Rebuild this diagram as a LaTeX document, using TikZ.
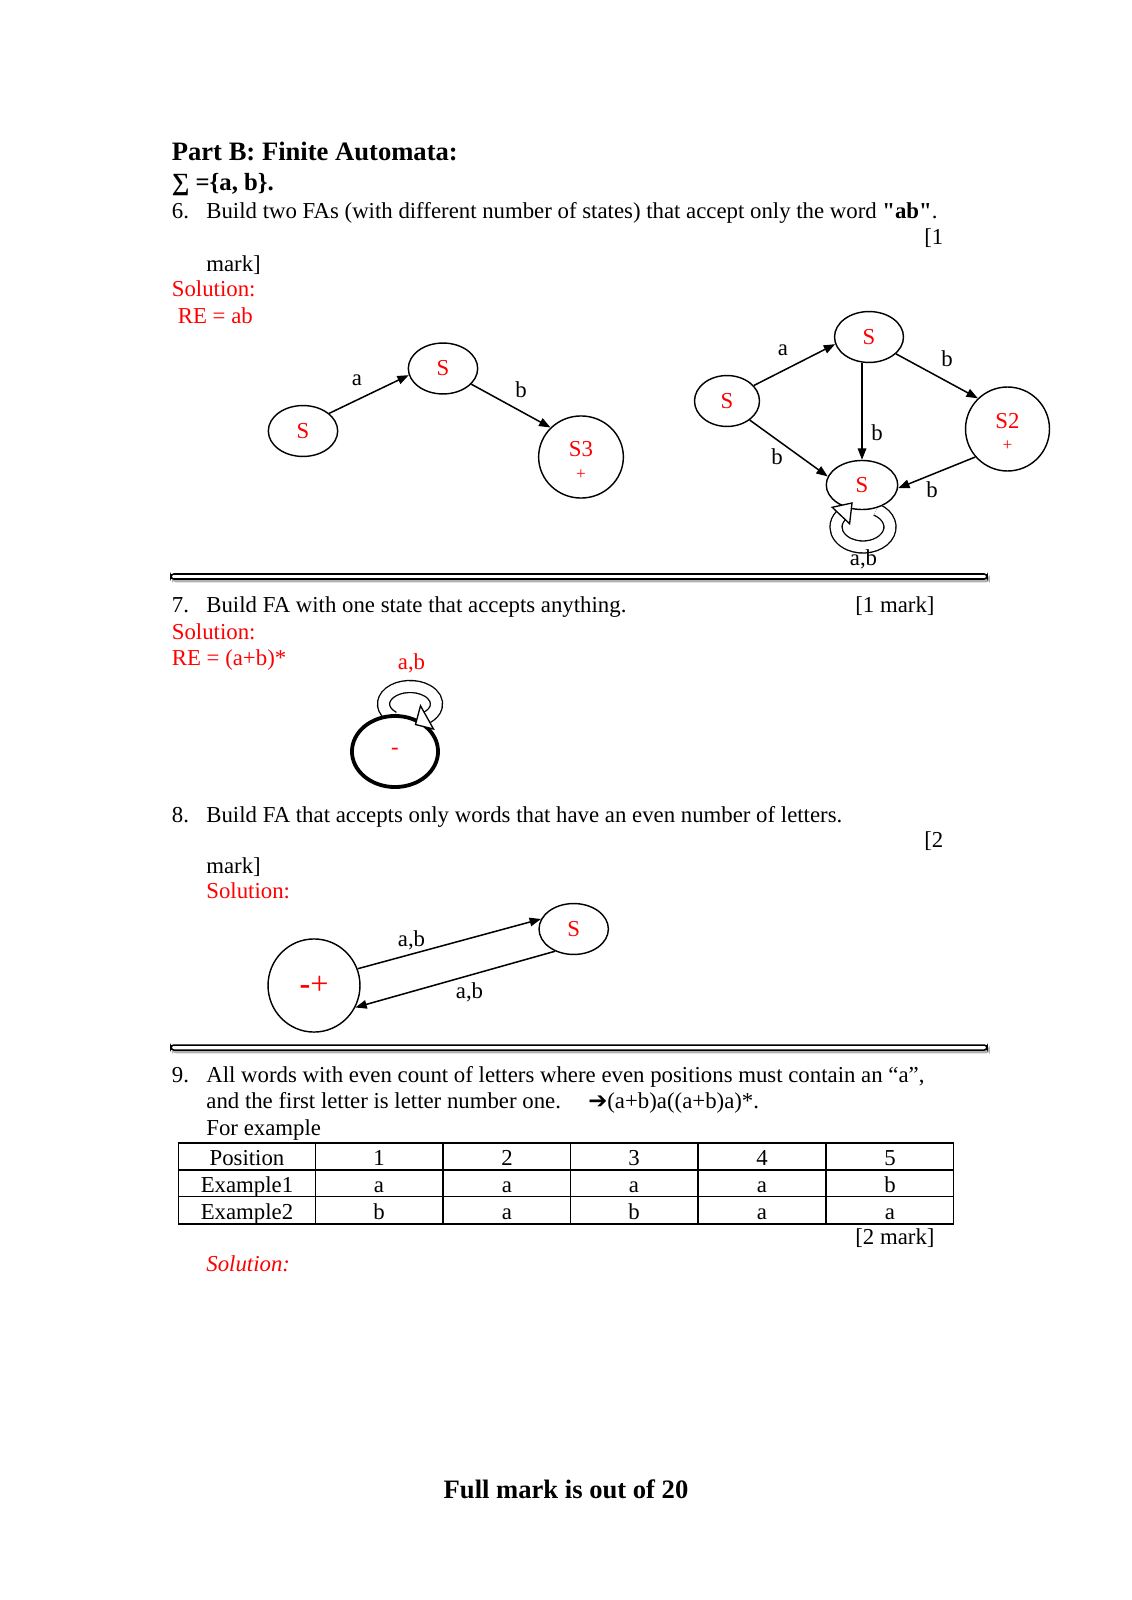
\documentclass[tikz,border=0pt]{standalone}
\usepackage{fontspec}
\setmainfont{Liberation Serif}
\newfontfamily\straight{Liberation Serif}[Ligatures=TeXOff]
\newfontfamily\dejavu{DejaVu Sans}
\usetikzlibrary{shapes.geometric,arrows.meta}

\begin{document}
\begin{tikzpicture}[x=0.5263pt,y=-0.5263pt,
  txt/.style={anchor=base west,inner sep=0pt,font=\fontsize{12}{14}\selectfont},
  head/.style={txt,font=\fontsize{14}{16}\selectfont\bfseries},
  sol/.style={txt,text=red},
  state/.style={draw,ellipse,line width=0.75pt,fill=white,text=red,inner sep=0pt,
    font=\fontsize{12}{13}\selectfont,align=center},
  final/.style={state,text depth=8pt},
  lab/.style={inner sep=0pt,font=\fontsize{12}{14}\selectfont},
  plus/.style={lab,text=red,font=\small},
  edge/.style={line width=0.8pt,-{Triangle[length=6pt,width=4.5pt]}},
  band/.style={line width=0.7pt,double=white,double distance=5.6pt},
  head tip/.style={line width=0.7pt,fill=white,line join=miter},
  bar/.style={draw,line width=0.8pt,fill=white,rounded corners=1.5pt}]
\useasboundingbox (0,0) rectangle (1131,1600);

% question 6
\node[head] (title) at (171.5,161) {Part B: Finite Automata:};
\node[head,font=\fontsize{13}{15}\selectfont\bfseries] (sigma) at (171.5,191) {∑ =\{a, b\}.};
\node[txt] (n6) at (171.5,218.5) {6.};
\node[txt] (q6) at (206,218.5) {Build two FAs (with different number of states) that accept only the word {\straight\bfseries "ab"}.};
\node[txt] (m6a) at (924,245) {[1};
\node[txt] (m6b) at (206,271.5) {mark]};
\node[sol] (sol6) at (171.5,297) {Solution:};
\node[sol] (re6) at (177.5,323.5) {RE = ab};

% first FA, three states
\node[state,minimum width=36.5pt,minimum height=26.8pt] (p1) at (303,431) {S};
\node[state,minimum width=36.5pt,minimum height=26.8pt] (p2) at (443,368.5) {S};
\node[final,minimum width=44.6pt,minimum height=43.2pt] (p3) at (581,457) {S3};
\node[plus] (p3acc) at (581,475) {+};
\draw[edge] (p1.34) -- (p2.191);
\draw[edge] (p2.331) -- (p3.136);
\node[lab] (la1) at (357,380) {a};
\node[lab] (lb1) at (521,390) {b};

% second FA, four states
\draw[band] (876.5,509.7) arc[start angle=-60,end angle=215,x radius=27,y radius=20];
\node[state,minimum width=34.2pt,minimum height=26.8pt] (r1) at (727,401) {S};
\node[state,minimum width=36.3pt,minimum height=26.8pt] (r2) at (869,337) {S};
\node[final,minimum width=44.2pt,minimum height=44.2pt] (r3) at (1007.5,429) {S2};
\node[plus] (r3acc) at (1007.5,446) {+};
\node[state,minimum width=37.6pt,minimum height=25.8pt] (r4) at (862,485) {S};
\draw[head tip] (849.6,523.7) -- (852,503) -- (832.2,507.3) -- cycle;
\draw[edge] (r1.30) -- (r2.192);
\draw[edge] (r2.328) -- (r3.134);
\draw[edge] (r2.south -| r4.north) -- (r4.north);
\draw[edge] (r1.320) -- (r4.166);
\draw[edge] (r3.221) -- (r4.355);
\node[lab] (la2) at (783,350) {a};
\node[lab] (lb2) at (947,359) {b};
\node[lab] (lb3) at (877,433) {b};
\node[lab] (lb4) at (777,457) {b};
\node[lab] (lb5) at (932,490) {b};
\node[lab] (lab2) at (863.5,559) {a,b};

\draw[bar,draw=gray!60,fill=gray!60] (173,576.5) rectangle (989,581.5);
\draw[bar] (171,574) rectangle (987,579);

% question 7
\node[txt] (n7) at (171.5,612.5) {7.};
\node[txt] (q7) at (206,612.5) {Build FA with one state that accepts anything.};
\node[txt] (m7) at (855,612.5) {[1 mark]};
\node[sol] (sol7) at (171.5,639) {Solution:};
\node[sol] (re7) at (171.5,665.5) {RE = (a+b)*};
\node[lab,text=red] (lab7) at (411.5,663.5) {a,b};
\draw[band] (393,717.4) arc[start angle=130,end angle=410,x radius=26.5,y radius=17.5];
\node[state,line width=2pt,minimum width=45.3pt,minimum height=37.4pt] (one) at (395,751.5) {-};
\draw[head tip] (433.5,729) -- (415.5,724.5) -- (420.5,705.8) -- cycle;

% question 8
\node[txt] (n8) at (171.5,822) {8.};
\node[txt] (q8) at (206,822) {Build FA that accepts only words that have an even number of letters.};
\node[txt] (m8a) at (924,847) {[2};
\node[txt] (m8b) at (206,873) {mark]};
\node[sol] (sol8) at (206,898) {Solution:};
\node[state,minimum width=48.4pt,minimum height=49pt,font=\fontsize{17}{18}\selectfont] (even) at (314,985.5) {\textbf{-}+};
\node[state,minimum width=36.5pt,minimum height=26.8pt] (odd) at (573.7,929) {S};
\draw[edge] (even.21) -- (odd.163);
\draw[edge] (odd.230) -- (even.332);
\node[lab] (lab8a) at (411.5,940) {a,b};
\node[lab] (lab8b) at (469.5,992) {a,b};

\draw[bar,draw=gray!60,fill=gray!60] (173,1047.5) rectangle (989,1052.5);
\draw[bar] (171,1045) rectangle (987,1050);

% question 9
\node[txt] (n9) at (171.5,1082) {9.};
\node[txt] (q9a) at (206,1082) {All words with even count of letters where even positions must contain an “a”,};
\node[txt] (q9b) at (206,1108.5) {and the first letter is letter number one.\hspace{1.2em}{\dejavu\bfseries ➔}(a+b)a((a+b)a)*.};
\node[txt] (q9c) at (206,1135) {For example};

\draw[line width=0.7pt] (178.5,1143) rectangle (953.5,1224);
\draw[line width=0.7pt] (178.5,1170) -- (953.5,1170);
\draw[line width=0.7pt] (178.5,1196.5) -- (953.5,1196.5);
\draw[line width=0.7pt] (315.5,1143) -- (315.5,1224);
\draw[line width=0.7pt] (443,1143) -- (443,1224);
\draw[line width=0.7pt] (570.5,1143) -- (570.5,1224);
\draw[line width=0.7pt] (698,1143) -- (698,1224);
\draw[line width=0.7pt] (826,1143) -- (826,1224);

\node[lab,anchor=base] (h0) at (247,1165) {Position};
\node[lab,anchor=base] (h1) at (379,1165) {1};
\node[lab,anchor=base] (h2) at (507,1165) {2};
\node[lab,anchor=base] (h3) at (634,1165) {3};
\node[lab,anchor=base] (h4) at (762,1165) {4};
\node[lab,anchor=base] (h5) at (890,1165) {5};
\node[lab,anchor=base] (e0) at (247,1192) {Example1};
\node[lab,anchor=base] (e1) at (379,1192) {a};
\node[lab,anchor=base] (e2) at (507,1192) {a};
\node[lab,anchor=base] (e3) at (634,1192) {a};
\node[lab,anchor=base] (e4) at (762,1192) {a};
\node[lab,anchor=base] (e5) at (890,1192) {b};
\node[lab,anchor=base] (f0) at (247,1219) {Example2};
\node[lab,anchor=base] (f1) at (379,1219) {b};
\node[lab,anchor=base] (f2) at (507,1219) {a};
\node[lab,anchor=base] (f3) at (634,1219) {b};
\node[lab,anchor=base] (f4) at (762,1219) {a};
\node[lab,anchor=base] (f5) at (890,1219) {a};

\node[txt] (m9) at (855,1244) {[2 mark]};
\node[sol,font=\fontsize{12}{14}\selectfont\itshape] (sol9) at (206,1271) {Solution:};

\node[head,anchor=base] (total) at (566,1498.5) {Full mark is out of 20};
\end{tikzpicture}
\end{document}
